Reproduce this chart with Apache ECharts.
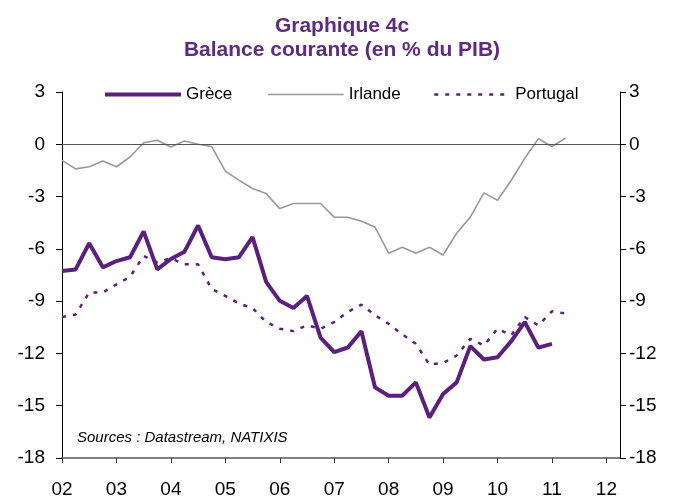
<!DOCTYPE html>
<html>
<head>
<meta charset="utf-8">
<script src="https://cdn.jsdelivr.net/npm/echarts@6/dist/echarts.min.js"></script>
<style>
  html, body { margin: 0; padding: 0; background: #fff; }
  #main { width: 684px; height: 500px; }
</style>
</head>
<body>
<div id="main"></div>
<script>
// années affichées sur l'axe, données trimestrielles 2002T1 -> 2012T2
var years = ['02', '03', '04', '05', '06', '07', '08', '09', '10', '11', '12'];
var quarters = [];
years.forEach(function (y) {
  for (var q = 1; q <= 4; q++) quarters.push(y + 'T' + q);
});
quarters = quarters.slice(0, 42);

var yTicks = [3, 0, -3, -6, -9, -12, -15, -18];

// balance courante en % du PIB
var grece = [-7.27, -7.18, -5.68, -7.06, -6.70, -6.48, -5.00, -7.18, -6.58, -6.16,
  -4.66, -6.48, -6.60, -6.48, -5.33, -7.89, -8.98, -9.39, -8.70, -11.10,
  -11.93, -11.66, -10.73, -13.95, -14.43, -14.43, -13.66, -15.68, -14.33, -13.66,
  -11.58, -12.35, -12.22, -11.31, -10.20, -11.67, -11.45];
var irlande = [-0.92, -1.41, -1.29, -0.96, -1.29, -0.73, 0.09, 0.23, -0.16, 0.19,
  0.0, -0.13, -1.54, -2.06, -2.54, -2.83, -3.69, -3.40, -3.40, -3.40,
  -4.18, -4.19, -4.42, -4.75, -6.25, -5.91, -6.25, -5.91, -6.35, -5.10,
  -4.18, -2.79, -3.21, -2.08, -0.81, 0.32, -0.13, 0.35];
var portugal = [-9.91, -9.77, -8.50, -8.50, -8.04, -7.60, -6.41, -6.77, -6.54, -6.89,
  -6.89, -8.31, -8.70, -9.14, -9.39, -10.20, -10.58, -10.72, -10.39, -10.58,
  -10.20, -9.62, -9.20, -9.81, -10.30, -10.90, -11.45, -12.64, -12.55, -12.12,
  -11.16, -11.54, -10.58, -10.96, -9.91, -10.39, -9.58, -9.71];

var violet = '#5b1f7d';
var gris = '#999';
var font = 'Liberation Sans, Arial, sans-serif';

var styleGrece = { color: violet, width: 4 };
var styleIrlande = { color: gris, width: 1.6 };
var stylePortugal = { color: violet, width: 2.5, type: [4, 7] };

var myChart = echarts.init(document.getElementById('main'));

function yAxe(pos, margin) {
  return {
    type: 'value',
    position: pos,
    min: yTicks[yTicks.length - 1],
    max: yTicks[0],
    interval: 3,
    axisLine: { show: true, lineStyle: { color: '#000', width: 1 } },
    axisTick: { show: true, length: 6, lineStyle: { color: '#000' } },
    axisLabel: { margin: margin, fontSize: 19, color: '#000', fontFamily: font },
    splitLine: { show: false }
  };
}

function legende(nom, x, style) {
  return {
    data: [nom],
    left: x,
    top: 81,
    itemWidth: 76,
    itemHeight: 14,
    itemStyle: { opacity: 0 },
    lineStyle: style,
    textStyle: { fontSize: 17, color: '#000', fontFamily: font }
  };
}

function tousLesAns(i) { return i % 4 === 0; }

myChart.setOption({
  animation: false,
  title: {
    text: 'Graphique 4c\nBalance courante (en % du PIB)',
    left: 'center',
    top: 9,
    textStyle: { fontSize: 21, fontWeight: 'bold', color: '#5e2a84', lineHeight: 24, fontFamily: font }
  },
  legend: [
    legende('Grèce', 98, styleGrece),
    legende('Irlande', 262, styleIrlande),
    legende('Portugal', 428, stylePortugal)
  ],
  grid: { left: 62, right: 64, top: 92, bottom: 42 },
  xAxis: {
    type: 'category',
    data: quarters,
    boundaryGap: false,
    axisLine: { onZero: false, lineStyle: { color: '#555', width: 1.5 } },
    axisTick: { interval: tousLesAns, length: 5, lineStyle: { color: '#333' } },
    axisLabel: {
      interval: tousLesAns,
      margin: 22,
      fontSize: 19,
      color: '#000',
      fontFamily: font,
      formatter: function (v) { return v.slice(0, 2); }
    },
    splitLine: { show: false }
  },
  yAxis: [yAxe('left', 17), yAxe('right', 9)],
  graphic: [{
    type: 'text',
    left: 77,
    top: 430,
    style: { text: 'Sources : Datastream, NATIXIS', fontSize: 15, fontStyle: 'italic', fill: '#000', fontFamily: font }
  }],
  series: [
    {
      name: 'Grèce', type: 'line', data: grece, symbol: 'none', z: 5,
      lineStyle: styleGrece, itemStyle: { color: violet }
    },
    {
      name: 'Irlande', type: 'line', data: irlande, symbol: 'none', z: 3,
      lineStyle: styleIrlande, itemStyle: { color: gris },
      markLine: {
        silent: true, symbol: 'none', label: { show: false },
        lineStyle: { color: '#555', width: 1.2, type: 'solid' },
        data: [{ yAxis: 0 }]
      }
    },
    {
      name: 'Portugal', type: 'line', data: portugal, symbol: 'none', z: 4,
      lineStyle: stylePortugal, itemStyle: { color: violet }
    }
  ]
});
</script>
</body>
</html>
